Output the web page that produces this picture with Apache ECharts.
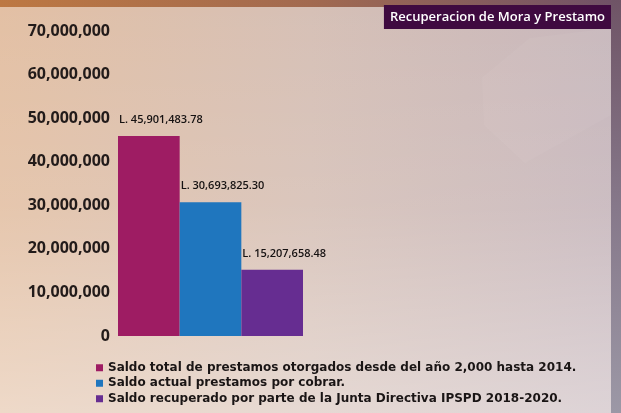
<!DOCTYPE html>
<html>
<head>
<meta charset="utf-8">
<script src="https://cdn.jsdelivr.net/npm/echarts@6/dist/echarts.min.js"></script>
<style>
html,body{margin:0;padding:0;}
#chart{width:621px;height:413px;}
</style>
</head>
<body>
<div id="chart"></div>
<script>
const chartTitle = 'Recuperacion de Mora y Prestamo';
const categories = [''];
const seriesNames = [
  'Saldo total de prestamos otorgados desde del año 2,000 hasta 2014.',
  'Saldo actual prestamos por cobrar.',
  'Saldo recuperado por parte de la Junta Directiva IPSPD 2018-2020.'
];
const seriesValues = [45901483.78, 30693825.30, 15207658.48];
const seriesColors = ['#9e1c63', '#1f76be', '#662d91'];
const yTicks = [0, 10000000, 20000000, 30000000, 40000000, 50000000, 60000000, 70000000];

const FONT = '"Open Sans", "Noto Sans", sans-serif';
const LEGEND_FONT = '"DejaVu Sans", Verdana, sans-serif';

function fmtInt(v){ return Math.round(v).toString().replace(/\B(?=(\d{3})+(?!\d))/g, ','); }
function fmtMoney(v){
  const parts = v.toFixed(2).split('.');
  return 'L. ' + parts[0].replace(/\B(?=(\d{3})+(?!\d))/g, ',') + '.' + parts[1];
}

const chart = echarts.init(document.getElementById('chart'), null, {renderer:'canvas'});

const series = seriesNames.map((name, i) => ({
  name: name,
  type: 'bar',
  data: [seriesValues[i]],
  itemStyle: { color: seriesColors[i] },
  barGap: '0%',
  barCategoryGap: '0%',
  label: {
    show: true,
    position: [1, -16],
    align: 'left',
    verticalAlign: 'middle',
    color: '#161212',
    fontFamily: FONT,
    fontSize: 11,
    fontWeight: 600,
    formatter: p => fmtMoney(p.value)
  }
}));

chart.setOption({
  animation: false,
  backgroundColor: 'transparent',
  graphic: [
    { type: 'rect', z: -10, silent: true, shape: {x:0, y:0, width:621, height:413},
      style: { fill: new echarts.graphic.LinearGradient(0,0,1,0,[
        {offset:0, color:'#e3c0a4'},
        {offset:0.5, color:'#d6c0b6'},
        {offset:1, color:'#c6b6bc'}]) } },
    { type: 'rect', z: -9, silent: true, shape: {x:0, y:0, width:621, height:413},
      style: { fill: new echarts.graphic.LinearGradient(0,0,0,1,[
        {offset:0, color:'rgba(255,255,255,0)'},
        {offset:0.5, color:'rgba(255,255,255,0.1)'},
        {offset:1, color:'rgba(255,255,255,0.4)'}]) } },
    { type: 'polygon', z: -8, silent: true,
      shape: { points: [[482,78],[530,38],[611,28],[611,115],[525,163],[484,125]] },
      style: { fill: 'rgba(255,255,255,0.045)' } },
    { type: 'rect', z: -7, silent: true, shape: {x:0, y:0, width:621, height:7},
      style: { fill: new echarts.graphic.LinearGradient(0,0,1,0,[
        {offset:0, color:'#bd7842'},
        {offset:0.5, color:'#a26a50'},
        {offset:1, color:'#6f5168'}]) } },
    { type: 'rect', z: -7, silent: true, shape: {x:611, y:0, width:10, height:413},
      style: { fill: new echarts.graphic.LinearGradient(0,0,0,1,[
        {offset:0, color:'#6f5466'},
        {offset:0.5, color:'#86788a'},
        {offset:1, color:'#9c98a6'}]) } }
  ],
  title: {
    text: chartTitle,
    right: 10,
    top: 5,
    padding: [5, 6, 5, 6],
    backgroundColor: '#3f0a40',
    textStyle: { color: '#ffffff', fontFamily: FONT, fontSize: 13, fontWeight: 600, lineHeight: 14 }
  },
  legend: {
    orient: 'vertical',
    left: 96,
    top: 361,
    padding: 0,
    height: 52,
    itemWidth: 7,
    itemHeight: 7,
    itemGap: 2,
    icon: 'rect',
    textStyle: { color: '#1a1515', fontFamily: LEGEND_FONT, fontSize: 12, fontWeight: 'bold', lineHeight: 13.5 },
    data: seriesNames
  },
  grid: { left: 118, right: 318, top: 31, bottom: 77, containLabel: false },
  xAxis: {
    type: 'category',
    data: categories,
    axisLine: { show: false },
    axisTick: { show: false },
    axisLabel: { show: false }
  },
  yAxis: {
    type: 'value',
    min: yTicks[0],
    max: yTicks[yTicks.length - 1],
    interval: yTicks[1] - yTicks[0],
    axisLine: { show: false },
    axisTick: { show: false },
    splitLine: { show: false },
    axisLabel: {
      margin: 8,
      color: '#221b1a',
      fontFamily: FONT,
      fontSize: 16,
      fontWeight: 700,
      formatter: v => fmtInt(v)
    }
  },
  series: series
});
</script>
</body>
</html>
